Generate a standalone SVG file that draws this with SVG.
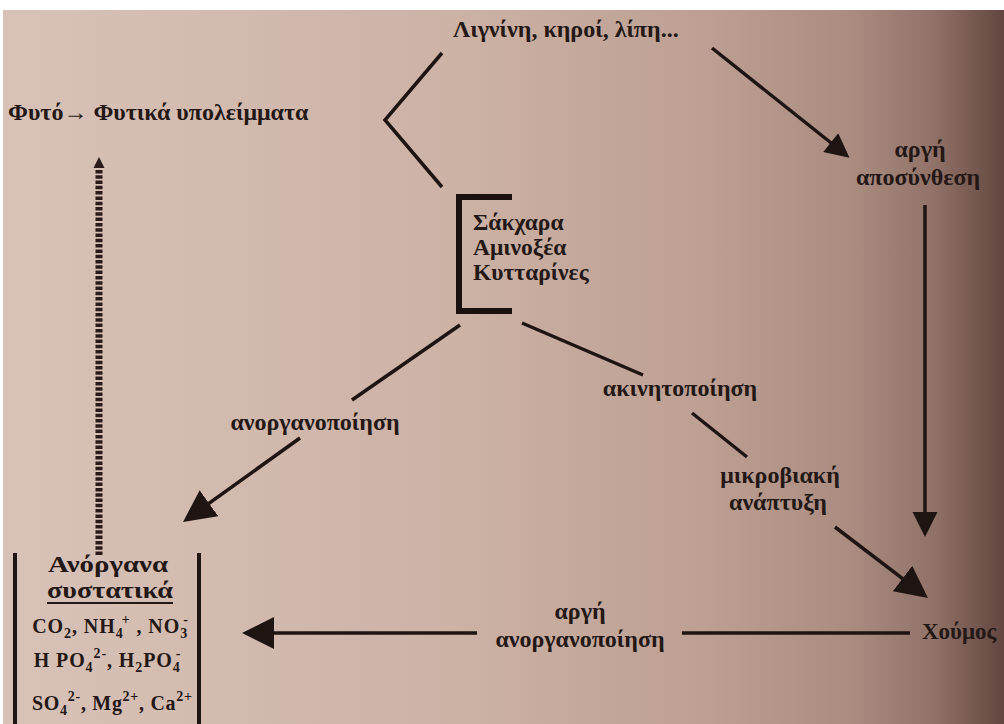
<svg xmlns="http://www.w3.org/2000/svg" width="1004" height="724" viewBox="0 0 1004 724">
<defs>
<linearGradient id="bg" x1="0" y1="0" x2="1" y2="0">
<stop offset="0" stop-color="#d8c2b7"/>
<stop offset="0.45" stop-color="#cdb2a6"/>
<stop offset="0.7" stop-color="#bd9f93"/>
<stop offset="0.85" stop-color="#aa8b80"/>
<stop offset="0.93" stop-color="#917268"/>
<stop offset="1" stop-color="#62463f"/>
</linearGradient>
<marker id="big" viewBox="0 0 10 10" markerUnits="userSpaceOnUse" markerWidth="32" markerHeight="32" refX="7.5" refY="5" orient="auto"><path d="M0,0 L10,5 L0,10 z" fill="#1e1412"/></marker>
<marker id="vert" viewBox="0 0 10 10" markerUnits="userSpaceOnUse" markerWidth="25" markerHeight="28" refX="6.8" refY="5" orient="auto"><path d="M0,0 L10,5 L0,10 z" fill="#1e1412"/></marker>
<marker id="mid" viewBox="0 0 10 10" markerUnits="userSpaceOnUse" markerWidth="26" markerHeight="24" refX="6.9" refY="5" orient="auto"><path d="M0,0 L10,5 L0,10 z" fill="#1e1412"/></marker>
<marker id="small" viewBox="0 0 10 10" markerUnits="userSpaceOnUse" markerWidth="11" markerHeight="16" refX="4.5" refY="5" orient="auto"><path d="M0,0 L10,5 L0,10 z" fill="#2a1c1a"/></marker>
</defs>
<style>
text{font-family:"Liberation Serif","DejaVu Serif","Times New Roman",serif;font-weight:bold;fill:#231815;}
.lbl{font-size:24px;}
.c{text-anchor:middle;}
.big{font-size:24px;}
.chem{font-size:20px;text-anchor:middle;}
.s{font-size:14px;}
.ln{stroke:#1e1412;stroke-width:3.5;fill:none;}
.dash{stroke:#2a1b18;stroke-width:7;stroke-dasharray:3.5 1.8;fill:none;}
.bar{stroke:#1e1412;stroke-width:4;fill:none;}
</style>
<rect x="0" y="0" width="1004" height="724" fill="#ffffff"/>
<rect x="3" y="10" width="1001" height="714" fill="url(#bg)"/>

<g id="connectors">
<polyline class="ln" points="442,53 385,120 442,187"/>
<line class="ln" x1="712" y1="48" x2="843.7" y2="153" marker-end="url(#mid)"/>
<line class="ln" x1="925" y1="205" x2="925" y2="529" marker-end="url(#vert)"/>
<line class="ln" x1="460" y1="325" x2="352" y2="400"/>
<line class="ln" x1="300" y1="438" x2="189.5" y2="517.3" marker-end="url(#big)"/>
<line class="ln" x1="522" y1="323" x2="643" y2="375"/>
<line class="ln" x1="692" y1="413" x2="747" y2="457"/>
<line class="ln" x1="835" y1="527" x2="921.6" y2="593.1" marker-end="url(#big)"/>
<line class="ln" x1="910" y1="633" x2="682" y2="633"/>
<line class="ln" x1="477" y1="633" x2="250" y2="633" marker-end="url(#big)"/>
<line class="dash" x1="99" y1="555" x2="99" y2="163" marker-end="url(#small)"/>
</g>

<g id="node-lignin">
<text class="lbl" x="453" y="37">Λιγνίνη, κηροί, λίπη...</text>
</g>

<g id="node-plant">
<text class="lbl" x="8" y="120">Φυτό→ Φυτικά υπολείμματα</text>
</g>

<g id="node-sugars">
<path d="M512,197 L459,197 L459,311 L512,311" fill="none" stroke="#1a1010" stroke-width="6"/>
<text class="lbl" x="473" y="230" style="font-size:23.5px">Σάκχαρα</text>
<text class="lbl" x="473" y="255" style="font-size:23.5px">Αμινοξέα</text>
<text class="lbl" x="473" y="280" style="font-size:23.5px">Κυτταρίνες</text>
</g>

<g id="node-slow-decomp">
<text class="lbl c" x="920" y="157">αργή</text>
<text class="lbl c" x="918" y="185">αποσύνθεση</text>
</g>

<g id="node-mineralization">
<text class="lbl c" x="315" y="430">ανοργανοποίηση</text>
</g>

<g id="node-immobilization">
<text class="lbl c" x="680" y="396">ακινητοποίηση</text>
</g>

<g id="node-microbial">
<text class="lbl c" x="780" y="483">μικροβιακή</text>
<text class="lbl c" x="778" y="510">ανάπτυξη</text>
</g>

<g id="node-slow-mineral">
<text class="lbl c" x="580" y="619">αργή</text>
<text class="lbl c" x="580" y="647">ανοργανοποίηση</text>
</g>

<g id="node-humus">
<text class="lbl" x="922" y="639" style="font-size:23px">Χούμος</text>
</g>

<g id="node-inorganic">
<line class="bar" x1="15" y1="553" x2="15" y2="724"/>
<line class="bar" x1="199" y1="553" x2="199" y2="724"/>
<text class="big" x="48" y="572" textLength="120" lengthAdjust="spacingAndGlyphs">Ανόργανα</text>
<text class="big" x="47" y="598" textLength="126" lengthAdjust="spacingAndGlyphs">συστατικά</text>
<line x1="47" y1="603" x2="173" y2="603" stroke="#231815" stroke-width="2"/>
<text class="chem" x="110" y="633" textLength="156" lengthAdjust="spacing">CO<tspan class="s" dy="5">2</tspan><tspan dy="-5">, NH</tspan><tspan class="s" dy="5">4</tspan><tspan class="s" dx="-2" dy="-14">+</tspan><tspan dy="9"> , NO</tspan><tspan class="s" dy="5">3</tspan><tspan class="s" dx="-5" dy="-14">-</tspan></text>
<text class="chem" x="107" y="667" textLength="147" lengthAdjust="spacing">H PO<tspan class="s" dy="5">4</tspan><tspan class="s" dy="-14">2-</tspan><tspan dy="9">, H</tspan><tspan class="s" dy="5">2</tspan><tspan dy="-5">PO</tspan><tspan class="s" dy="5">4</tspan><tspan class="s" dx="-5" dy="-14">-</tspan></text>
<text class="chem" x="112" y="710" textLength="160" lengthAdjust="spacing">SO<tspan class="s" dy="5">4</tspan><tspan class="s" dy="-14">2-</tspan><tspan dy="9">, Mg</tspan><tspan class="s" dy="-9">2+</tspan><tspan dy="9">, Ca</tspan><tspan class="s" dy="-9">2+</tspan></text>
</g>
</svg>
